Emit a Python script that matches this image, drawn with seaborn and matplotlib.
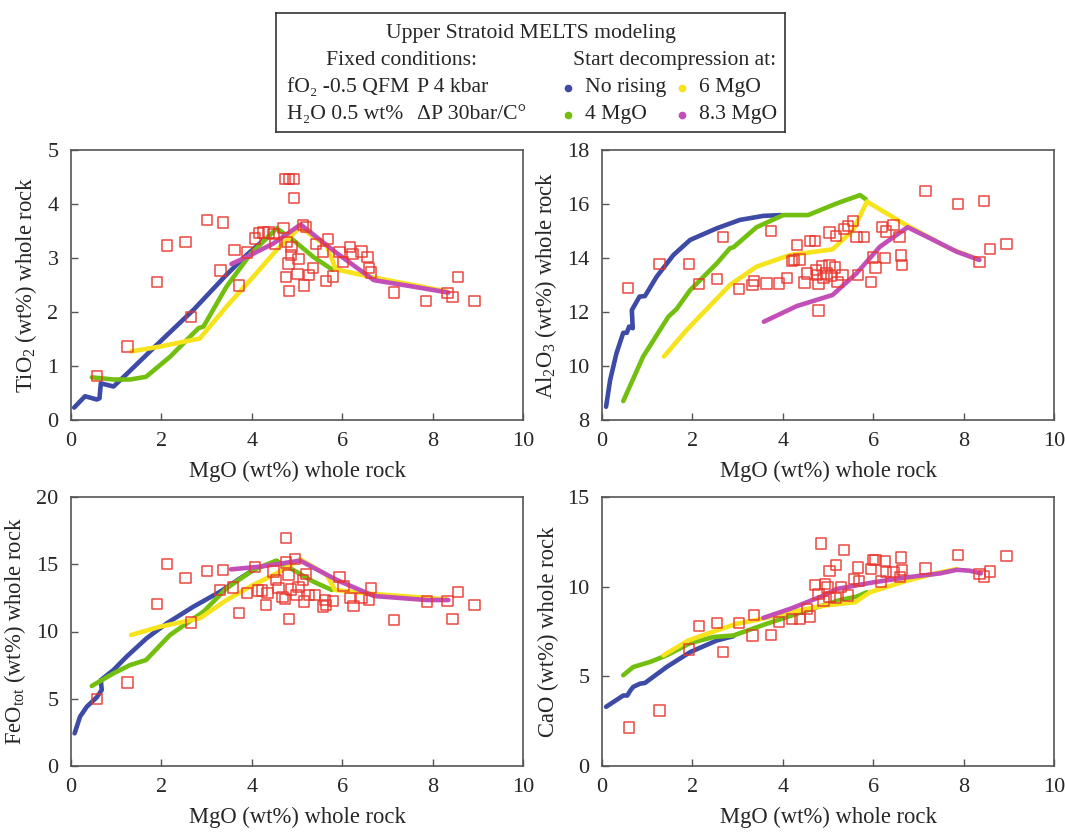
import numpy as np
import pandas as pd
import matplotlib
matplotlib.use("Agg")
import matplotlib.pyplot as plt
import seaborn as sns

# ---------------- data ----------------
# TiO2 panel: whole rock samples
tio2_mgo = [0.57, 1.25, 1.90, 2.13, 2.53, 2.66, 3.01, 3.36, 3.31, 3.62, 3.72, 3.89, 4.07, 4.16,
            4.26, 4.37, 4.48, 4.51, 4.70, 4.74, 4.83, 4.92, 4.94, 4.75, 4.82, 4.81, 4.87, 5.03,
            5.01, 5.16, 5.27, 5.35, 5.13, 5.20, 5.42, 5.58, 5.68, 5.64, 5.79, 5.94, 6.01, 6.17,
            6.23, 6.43, 6.56, 6.59, 6.63, 7.15, 7.86, 8.33, 8.44, 8.56, 8.93, 4.78, 4.88]
tio2_val = [0.82, 1.36, 2.56, 3.23, 3.29, 1.91, 3.71, 3.66, 2.77, 3.15, 2.49, 3.10, 3.36, 3.46,
            3.47, 3.47, 3.44, 3.27, 3.55, 4.46, 4.46, 4.46, 4.11, 2.65, 2.39, 2.90, 3.06, 2.98,
            2.70, 2.49, 2.69, 2.82, 3.61, 3.58, 3.26, 3.12, 3.35, 2.57, 2.66, 3.11, 2.93, 3.20,
            3.07, 3.12, 3.02, 2.81, 2.73, 2.36, 2.20, 2.35, 2.28, 2.65, 2.20, 3.30, 3.20]
# TiO2 panel: MELTS models
tio2_blue_x = [0.07, 0.31, 0.57, 0.63, 0.66, 0.94, 1.23, 1.97, 2.71, 3.44, 3.89, 4.26]
tio2_blue_y = [0.23, 0.44, 0.38, 0.40, 0.68, 0.62, 0.85, 1.45, 2.04, 2.69, 3.06, 3.33]
tio2_green_x = [0.46, 0.94, 1.31, 1.66, 2.19, 2.82, 2.93, 3.44, 3.96, 4.55, 4.92, 5.36, 5.79]
tio2_green_y = [0.79, 0.75, 0.75, 0.80, 1.17, 1.70, 1.73, 2.47, 3.06, 3.55, 3.33, 3.02, 2.78]
tio2_yellow_x = [1.33, 1.97, 2.85, 3.44, 4.03, 4.55, 5.07, 5.66, 5.86, 6.69, 7.57, 8.31]
tio2_yellow_y = [1.27, 1.36, 1.51, 2.10, 2.65, 3.15, 3.57, 3.22, 2.79, 2.64, 2.50, 2.38]
tio2_magenta_x = [3.55, 3.89, 4.48, 5.08, 5.88, 6.70, 7.57, 8.35]
tio2_magenta_y = [2.89, 3.02, 3.27, 3.62, 3.09, 2.59, 2.47, 2.36]

# Al2O3 panel
al_mgo = [0.58, 1.27, 1.92, 2.15, 2.54, 2.67, 3.03, 3.33, 3.36, 3.64, 3.74, 3.91, 4.09, 4.21,
          4.25, 4.37, 4.31, 4.48, 4.54, 4.60, 4.72, 4.73, 4.76, 4.79, 4.79, 4.86, 4.90, 4.97,
          5.03, 5.03, 5.06, 5.15, 5.17, 5.21, 5.32, 5.35, 5.44, 5.56, 5.63, 5.67, 5.80, 5.95,
          6.00, 6.05, 6.19, 6.26, 6.28, 6.45, 6.58, 6.61, 6.64, 7.16, 7.88, 8.45, 8.35, 8.58, 8.95]
al_val = [12.90, 13.79, 13.79, 13.04, 13.22, 14.79, 12.85, 12.99, 13.16, 13.05, 15.01, 13.05,
          13.25, 13.88, 13.93, 13.95, 14.49, 13.09, 13.43, 14.64, 14.64, 13.56, 13.37, 13.04,
          12.05, 13.70, 13.25, 13.43, 13.73, 14.95, 13.33, 13.65, 14.81, 13.12, 13.37, 15.07,
          15.19, 15.36, 14.77, 13.37, 14.77, 13.10, 14.02, 13.65, 15.14, 13.99, 14.98, 15.22,
          14.79, 14.09, 13.73, 16.48, 16.00, 16.11, 13.85, 14.33, 14.53]
al_blue_x = [0.09, 0.18, 0.32, 0.47, 0.55, 0.60, 0.68, 0.66, 0.83, 0.95, 1.21, 1.58, 1.95, 2.54,
             3.05, 3.57, 3.97]
al_blue_y = [8.49, 9.48, 10.47, 11.23, 11.23, 11.46, 11.40, 12.07, 12.57, 12.59, 13.31, 14.11,
             14.67, 15.10, 15.41, 15.56, 15.59]
al_green_x = [0.47, 0.91, 1.47, 1.65, 1.95, 2.54, 2.83, 2.91, 3.42, 4.01, 4.56, 5.19, 5.71, 5.84]
al_green_y = [8.70, 10.35, 11.83, 12.11, 12.81, 13.80, 14.36, 14.40, 15.14, 15.59, 15.59, 16.02,
              16.33, 16.17]
al_yellow_x = [1.37, 1.87, 2.83, 3.42, 4.16, 5.10, 5.56, 5.86, 6.67, 7.48, 7.77, 8.35]
al_yellow_y = [10.35, 11.33, 13.00, 13.68, 14.11, 14.32, 15.04, 16.09, 15.28, 14.54, 14.30, 13.93]
al_magenta_x = [3.58, 4.31, 5.10, 5.63, 6.15, 6.76, 7.33, 7.85, 8.35]
al_magenta_y = [11.64, 12.22, 12.63, 13.43, 14.42, 15.14, 14.67, 14.23, 13.93]

# FeOtot panel
feo_mgo = [0.57, 1.25, 1.90, 2.13, 2.53, 2.66, 3.01, 3.36, 3.30, 3.59, 3.72, 3.89, 4.07, 4.14,
           4.22, 4.31, 4.35, 4.48, 4.54, 4.59, 4.68, 4.74, 4.76, 4.76, 4.81, 4.82, 4.86, 4.95,
           4.99, 5.03, 5.13, 5.16, 5.20, 5.27, 5.40, 5.58, 5.62, 5.64, 5.80, 5.94, 6.03, 6.17,
           6.25, 6.43, 6.60, 6.63, 7.15, 7.87, 8.33, 8.44, 8.56, 8.93]
feo_val = [4.96, 6.20, 12.04, 15.02, 14.00, 10.66, 14.52, 14.57, 13.09, 13.28, 11.35, 12.84,
           14.77, 13.04, 13.04, 11.97, 12.84, 14.45, 13.83, 13.26, 12.59, 12.44, 16.95, 15.12,
           14.20, 10.95, 13.13, 15.37, 12.71, 13.33, 13.83, 12.22, 14.25, 12.71, 12.71, 11.85,
           12.34, 11.97, 12.29, 14.03, 13.38, 12.47, 11.92, 12.47, 12.34, 13.21, 10.86, 12.22,
           12.29, 10.93, 12.96, 11.95]
feo_blue_x = [0.08, 0.20, 0.35, 0.57, 0.68, 0.66, 0.94, 1.23, 1.67, 2.12, 2.71, 3.30, 3.74, 4.03]
feo_blue_y = [2.43, 3.67, 4.41, 5.11, 5.65, 6.39, 7.14, 8.13, 9.49, 10.61, 11.85, 12.96, 13.95,
              14.57]
feo_green_x = [0.46, 0.94, 1.31, 1.66, 2.19, 2.93, 3.44, 4.03, 4.54, 4.92, 5.36, 5.77]
feo_green_y = [5.95, 6.89, 7.51, 7.88, 9.74, 11.47, 13.21, 14.57, 15.27, 14.57, 13.71, 13.09]
feo_yellow_x = [1.33, 1.97, 2.85, 3.44, 4.03, 4.55, 5.07, 5.66, 5.84, 6.69, 8.31]
feo_yellow_y = [9.74, 10.36, 10.98, 12.34, 13.46, 14.32, 15.37, 14.20, 13.09, 12.79, 12.39]
feo_magenta_x = [3.54, 4.18, 5.07, 5.88, 6.70, 7.87, 8.35]
feo_magenta_y = [14.62, 14.82, 15.27, 13.83, 12.64, 12.34, 12.34]

# CaO panel
cao_mgo = [0.59, 1.27, 1.93, 2.15, 2.54, 2.67, 3.03, 3.33, 3.36, 3.74, 3.91, 4.20, 4.38, 4.60,
           4.53, 4.72, 4.79, 4.84, 4.90, 4.93, 4.99, 5.03, 5.03, 5.17, 5.18, 5.28, 5.35, 5.45,
           5.58, 5.66, 5.69, 5.95, 6.00, 6.05, 6.17, 6.26, 6.28, 6.45, 6.61, 6.64, 6.59, 7.16,
           7.88, 8.35, 8.45, 8.58, 8.95]
cao_val = [2.15, 3.09, 6.50, 7.80, 7.96, 6.37, 7.96, 7.28, 8.43, 7.31, 8.02, 8.20, 8.20, 8.33,
           8.76, 10.09, 9.59, 12.41, 9.22, 10.15, 9.96, 10.89, 9.41, 11.22, 9.35, 10.00, 12.06,
           9.50, 10.43, 11.07, 10.33, 10.98, 11.48, 11.48, 10.28, 11.44, 10.80, 10.80, 11.63,
           10.93, 10.52, 11.02, 11.78, 10.70, 10.56, 10.85, 11.72]
cao_blue_x = [0.09, 0.47, 0.56, 0.63, 0.69, 0.84, 0.95, 1.43, 1.95, 2.54, 2.91]
cao_blue_y = [3.30, 3.93, 3.93, 4.22, 4.41, 4.59, 4.63, 5.52, 6.35, 7.00, 7.24]
cao_green_x = [0.47, 0.69, 1.06, 1.43, 1.95, 2.46, 2.91, 3.64, 4.53, 5.27, 5.63, 5.86]
cao_green_y = [5.06, 5.52, 5.80, 6.17, 6.85, 7.19, 7.28, 7.93, 8.67, 9.26, 9.44, 9.69]
cao_yellow_x = [1.36, 1.91, 2.54, 2.98, 3.53, 4.16, 4.90, 5.60, 5.93, 6.74, 7.48, 7.85]
cao_yellow_y = [6.17, 7.00, 7.56, 7.93, 8.20, 8.57, 8.94, 9.13, 9.69, 10.33, 10.80, 10.98]
cao_magenta_x = [3.57, 4.16, 4.90, 5.19, 6.00, 6.74, 7.48, 7.85, 8.14, 8.38]
cao_magenta_y = [8.26, 8.76, 9.50, 9.87, 10.24, 10.52, 10.74, 10.94, 10.89, 10.74]

series_names = ["No rising", "4 MgO", "6 MgO", "8.3 MgO"]
series_colors = ["#3d4aa6", "#72bf10", "#f6e31c", "#c24fb8"]
x_ticks = [0, 2, 4, 6, 8, 10]
x_label = "MgO (wt%) whole rock"

# ---------------- style ----------------
sns.set_style("white")
plt.rcParams["font.family"] = ["Liberation Serif", "DejaVu Serif"]
plt.rcParams["mathtext.fontset"] = "custom"
plt.rcParams["mathtext.rm"] = "Liberation Serif"
plt.rcParams["mathtext.it"] = "Liberation Serif:italic"
plt.rcParams["mathtext.bf"] = "Liberation Serif:bold"

RED = "#e8352c"
SPINE = "#555555"
W, H = 1065, 834
fig = plt.figure(figsize=(W / 100, H / 100), dpi=100)


def frac(l, t, r, b):
    return [l / W, 1 - b / H, (r - l) / W, (b - t) / H]


panels = [
    (frac(71, 150, 523, 420), tio2_mgo, tio2_val,
     [(tio2_blue_x, tio2_blue_y), (tio2_green_x, tio2_green_y),
      (tio2_yellow_x, tio2_yellow_y), (tio2_magenta_x, tio2_magenta_y)],
     (0, 5), [0, 1, 2, 3, 4, 5], r"TiO$_2$ (wt%) whole rock"),
    (frac(602, 150, 1054, 420), al_mgo, al_val,
     [(al_blue_x, al_blue_y), (al_green_x, al_green_y),
      (al_yellow_x, al_yellow_y), (al_magenta_x, al_magenta_y)],
     (8, 18), [8, 10, 12, 14, 16, 18], r"Al$_2$O$_3$ (wt%) whole rock"),
    (frac(71, 497, 523, 766), feo_mgo, feo_val,
     [(feo_blue_x, feo_blue_y), (feo_green_x, feo_green_y),
      (feo_yellow_x, feo_yellow_y), (feo_magenta_x, feo_magenta_y)],
     (0, 20), [0, 5, 10, 15, 20], r"FeO$_{\rm tot}$ (wt%) whole rock"),
    (frac(602, 497, 1054, 766), cao_mgo, cao_val,
     [(cao_blue_x, cao_blue_y), (cao_green_x, cao_green_y),
      (cao_yellow_x, cao_yellow_y), (cao_magenta_x, cao_magenta_y)],
     (0, 15), [0, 5, 10, 15], "CaO (wt%) whole rock"),
]

for rect, sx, sy, lines, ylim, yticks, ylabel in panels:
    ax = fig.add_axes(rect)
    for (lx, ly), col in zip(lines, series_colors):
        sns.lineplot(x=lx, y=ly, sort=False, estimator=None, color=col, lw=3.3,
                     ax=ax, legend=False, solid_capstyle="round", solid_joinstyle="round",
                     zorder=2)
    sns.scatterplot(x=sx, y=sy, marker="s", s=55, facecolor="none", edgecolor=RED,
                    linewidth=1.1, alpha=0.9, ax=ax, legend=False, zorder=3)
    ax.set_xlim(0, 10)
    ax.set_ylim(*ylim)
    ax.set_xticks(x_ticks)
    ax.set_yticks(yticks)
    ax.tick_params(axis="both", direction="in", length=5, width=1, color=SPINE,
                   labelsize=16, pad=9, bottom=True, left=True, top=False, right=False)
    ax.set_xlabel(x_label, fontsize=16.3, labelpad=7)
    ax.set_ylabel(ylabel, fontsize=16.3, labelpad=6)
    for sp in ax.spines.values():
        sp.set_color(SPINE)
        sp.set_linewidth(1.2)

# ---------------- legend box ----------------
lg = fig.add_axes(frac(276, 13, 785, 132))
lg.set_xlim(0, 1)
lg.set_ylim(0, 1)
lg.set_xticks([])
lg.set_yticks([])
for sp in lg.spines.values():
    sp.set_color("#333333")
    sp.set_linewidth(1.2)
fs = 15.6
lg.text(0.5, 0.83, "Upper Stratoid MELTS modeling", ha="center", va="center", fontsize=fs)
lg.text(0.246, 0.60, "Fixed conditions:", ha="center", va="center", fontsize=fs)
lg.text(0.784, 0.60, "Start decompression at:", ha="center", va="center", fontsize=fs)
lg.text(0.022, 0.37, "fO₂ -0.5 QFM", ha="left", va="center", fontsize=fs)
lg.text(0.277, 0.37, "P 4 kbar", ha="left", va="center", fontsize=fs)
lg.text(0.022, 0.145, "H₂O 0.5 wt%", ha="left", va="center", fontsize=fs)
lg.text(0.277, 0.145, "ΔP 30bar/C°", ha="left", va="center", fontsize=fs)
leg_pos = [(0.574, 0.37), (0.574, 0.145), (0.798, 0.37), (0.798, 0.145)]
for (px, py), name, col in zip(leg_pos, series_names, series_colors):
    lg.plot([px], [py], marker="o", ms=4.5, color=col, linestyle="none")
    lg.text(px + 0.034, py, name, ha="left", va="center", fontsize=fs)

fig.savefig("out.png", dpi=100)
